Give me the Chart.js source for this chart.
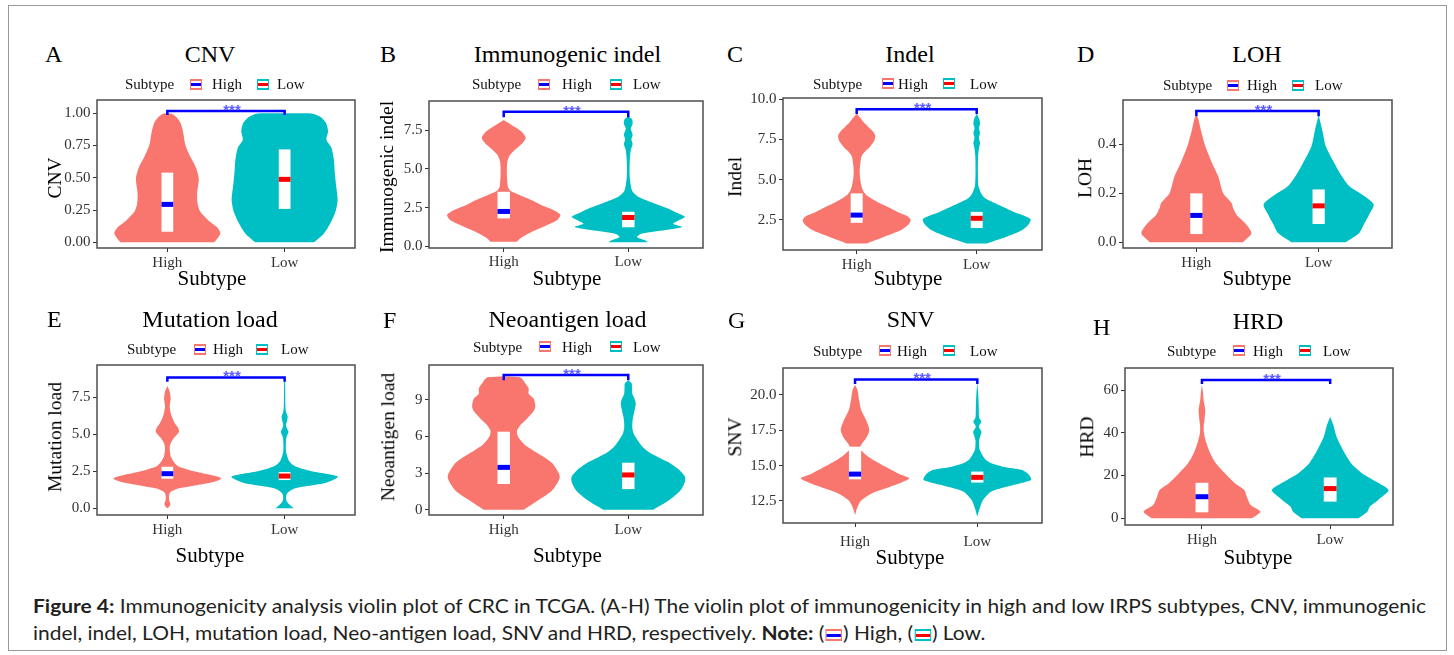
<!DOCTYPE html>
<html>
<head>
<meta charset="utf-8">
<title>Figure 4</title>
<script src="https://cdn.jsdelivr.net/npm/chart.js@4.4.1/dist/chart.umd.min.js"></script>
<style>
  html, body { margin: 0; padding: 0; background: #fff; }
  body { position: relative; width: 1454px; height: 655px; overflow: hidden; font-family: 'Liberation Serif', 'Times New Roman', serif; color: #111; }
  .frame { position: absolute; left: 8px; top: 5px; width: 1437px; height: 644px; border: 1px solid #999; }
  .t { position: absolute; white-space: nowrap; line-height: 1; }
  .key { position: absolute; width: 12px; height: 11px; }
  .key i, .ckey i { position: absolute; display: block; }
  canvas { position: absolute; }
  .cap { position: absolute; left: 33px; white-space: nowrap; font-family: Lato, sans-serif; font-size: 19px; line-height: 1; color: #231f20; transform-origin: 0 50%; }
  .ckey { display: inline-block; position: relative; width: 15px; height: 12px; vertical-align: -1px; margin: 0 1px; }
</style>
</head>
<body>
<div class="frame"></div>
<script>
const groups = ['High', 'Low'];

// violin outlines: [value, half width in category units]
const cnvHigh = [[0,0.40],[0.069,0.452],[0.12,0.42],[0.17,0.35],[0.238,0.28],[0.303,0.257],[0.38,0.254],[0.496,0.268],[0.587,0.24],[0.665,0.195],[0.756,0.153],[0.846,0.136],[0.924,0.113],[0.97,0.078],[0.996,0.035],[1.0,0]];
const cnvLow = [[0,0.25],[0.069,0.336],[0.147,0.39],[0.238,0.434],[0.328,0.452],[0.432,0.44],[0.535,0.428],[0.639,0.42],[0.73,0.40],[0.794,0.357],[0.86,0.37],[0.924,0.353],[0.97,0.31],[0.996,0.24],[1.0,0.2]];
const cnvBox = [[0.082,0.294,0.54],[0.259,0.488,0.72]];   // q1, median, q3
const cnvSig = [1.018, 0.987];
const cnvTicks = ['0.00','0.25','0.50','0.75','1.00'];

const imIndelHigh = [[0.3,0.107],[0.52,0.134],[0.95,0.23],[1.38,0.35],[1.7,0.43],[2.02,0.455],[2.3,0.41],[2.6,0.32],[2.88,0.25],[3.1,0.19],[3.3,0.13],[3.55,0.06],[3.8,0.035],[4.3,0.027],[5.0,0.025],[5.5,0.03],[5.9,0.05],[6.3,0.1],[6.65,0.15],[7.0,0.177],[7.35,0.15],[7.65,0.1],[7.9,0.05],[8.15,0]];
const imIndelLow = [[0.26,0.16],[0.4,0.13],[0.6,0.07],[0.8,0.1],[1.05,0.3],[1.25,0.43],[1.45,0.36],[1.65,0.40],[1.9,0.455],[2.2,0.38],[2.5,0.3],[2.8,0.2],[3.2,0.08],[3.6,0.03],[4.5,0.012],[5.5,0.012],[6.2,0.02],[6.6,0.035],[6.9,0.025],[7.2,0.035],[7.6,0.02],[7.9,0.035],[8.2,0.03],[8.4,0]];
const imIndelBox = [[1.8,2.25,3.52],[1.23,1.86,2.23]];
const imIndelSig = [8.69, 8.33];
const imIndelTicks = ['0.0','2.5','5.0','7.5'];

const indelHigh = [[1.04,0.085],[1.45,0.23],[1.87,0.37],[2.2,0.43],[2.5,0.45],[2.75,0.42],[3.0,0.34],[3.3,0.26],[3.55,0.19],[3.8,0.13],[4.05,0.08],[4.3,0.055],[4.6,0.04],[5.1,0.028],[5.6,0.025],[6.0,0.03],[6.45,0.04],[6.75,0.07],[7.0,0.105],[7.4,0.145],[7.75,0.155],[8.05,0.13],[8.3,0.095],[8.55,0.06],[8.8,0.035],[9.1,0]];
const indelLow = [[1.04,0.085],[1.45,0.25],[1.87,0.38],[2.2,0.43],[2.53,0.45],[2.75,0.4],[3.0,0.31],[3.3,0.22],[3.55,0.15],[3.8,0.08],[4.05,0.045],[4.6,0.015],[5.5,0.01],[6.5,0.012],[7.0,0.02],[7.3,0.028],[7.6,0.018],[7.9,0.028],[8.2,0.018],[8.5,0.028],[8.8,0.02],[9.1,0]];
const indelBox = [[2.32,2.8,4.15],[2.0,2.6,3.0]];
const indelSig = [9.38, 9.09];
const indelTicks = ['2.5','5.0','7.5','10.0'];

const lohHigh = [[0,0.38],[0.037,0.45],[0.078,0.40],[0.112,0.33],[0.14,0.30],[0.159,0.29],[0.2,0.22],[0.268,0.18],[0.322,0.13],[0.39,0.075],[0.458,0.037],[0.505,0.015],[0.52,0]];
const lohLow = [[0,0.22],[0.037,0.33],[0.078,0.375],[0.12,0.42],[0.155,0.45],[0.19,0.37],[0.23,0.25],[0.27,0.19],[0.322,0.13],[0.39,0.06],[0.458,0.03],[0.52,0]];
const lohBox = [[0.034,0.11,0.2],[0.075,0.149,0.216]];
const lohSig = [0.536, 0.515];
const lohTicks = ['0.0','0.2','0.4'];

const mutHigh = [[0.0,0.0],[0.15,0.02],[0.34,0.025],[0.55,0.015],[0.9,0.015],[1.12,0.03],[1.35,0.1],[1.5,0.2],[1.68,0.33],[1.85,0.42],[2.02,0.46],[2.2,0.4],[2.36,0.31],[2.55,0.2],[2.7,0.14],[2.85,0.09],[3.04,0.064],[3.49,0.03],[4.05,0.02],[4.4,0.028],[4.75,0.055],[5.18,0.1],[5.45,0.09],[5.74,0.064],[6.3,0.033],[6.87,0.02],[7.2,0.025],[7.43,0.028],[7.88,0.02],[8.26,0]];
const mutLow = [[0,0.08],[0.23,0.045],[0.45,0.02],[0.7,0.012],[1.0,0.02],[1.28,0.065],[1.45,0.15],[1.68,0.33],[1.9,0.41],[2.13,0.455],[2.3,0.38],[2.47,0.25],[2.65,0.16],[2.81,0.1],[3.0,0.06],[3.26,0.033],[3.83,0.012],[4.62,0.012],[4.9,0.02],[5.18,0.033],[5.4,0.02],[5.63,0.012],[5.9,0.02],[6.2,0.026],[6.5,0.012],[6.87,0.007],[8.6,0.004],[8.65,0]];
const mutBox = [[2.0,2.34,2.81],[1.91,2.18,2.45]];
const mutSig = [8.84, 8.55];
const mutTicks = ['0.0','2.5','5.0','7.5'];

const neoHigh = [[0,0.16],[0.8,0.28],[1.6,0.39],[2.7,0.45],[3.8,0.39],[4.4,0.31],[4.9,0.23],[5.3,0.17],[5.7,0.134],[6.1,0.11],[6.5,0.107],[7.0,0.14],[7.5,0.19],[8.0,0.235],[8.44,0.254],[9.1,0.24],[9.5,0.2],[9.95,0.2],[10.4,0.17],[10.84,0.13]];
const neoLow = [[0,0.2],[0.8,0.33],[1.6,0.42],[2.3,0.455],[2.7,0.455],[3.25,0.41],[3.9,0.32],[4.3,0.24],[4.7,0.167],[5.2,0.11],[5.7,0.074],[6.2,0.045],[6.66,0.033],[7.1,0.033],[7.5,0.037],[8.1,0.05],[8.7,0.06],[9.1,0.05],[9.5,0.033],[10.0,0.03],[10.35,0.027],[10.6,0]];
const neoBox = [[2.11,3.47,6.39],[1.69,2.85,3.85]];
const neoSig = [11.03, 10.6];
const neoTicks = ['0','3','6','9'];

const snvHigh = [[11.5,0],[12.08,0.02],[12.56,0.055],[13.03,0.137],[13.5,0.287],[13.8,0.38],[14.1,0.443],[14.4,0.36],[14.93,0.246],[15.4,0.15],[15.75,0.09],[16.0,0.06],[16.2,0.04],[16.46,0.05],[16.93,0.09],[17.52,0.117],[18.23,0.09],[18.94,0.05],[19.64,0.033],[20.35,0.02],[20.7,0]];
const snvLow = [[11.4,0],[11.99,0.02],[12.58,0.048],[13.17,0.116],[13.64,0.3],[13.99,0.44],[14.25,0.43],[14.46,0.41],[14.7,0.36],[14.9,0.22],[15.17,0.116],[15.4,0.07],[15.64,0.048],[16.1,0.02],[16.5,0.015],[16.8,0.015],[17.1,0.025],[17.4,0.034],[17.75,0.012],[18.1,0.033],[18.4,0.015],[19.17,0.012],[20.0,0.008],[20.9,0]];
const snvBox = [[14.03,14.4,16.34],[13.8,14.17,14.58]];
const snvSig = [21.1, 20.78];
const snvTicks = ['12.5','15.0','17.5','20.0'];

const hrdHigh = [[0,0.39],[3.1,0.455],[6.2,0.38],[10.1,0.35],[13.2,0.33],[16.3,0.26],[21,0.18],[25.6,0.11],[30.3,0.065],[35,0.036],[39.7,0.016],[43,0.014],[45.9,0.02],[50.6,0.026],[53,0.02],[55.3,0.013],[59,0.008],[62.3,0]];
const hrdLow = [[0,0.22],[3.1,0.29],[5.5,0.31],[8.6,0.375],[13.2,0.455],[17.1,0.36],[21,0.25],[25.6,0.165],[31.9,0.1],[38.1,0.05],[43.6,0.025],[47.5,0]];
const hrdBox = [[2.8,10.1,16.6],[7.8,13.9,19.1]];
const hrdSig = [64.7, 62.8];
const hrdTicks = ['0','20','40','60'];

const FILLS = ['#F8766D', '#00BFC4'];
const MEDIANS = ['#0000FF', '#FF0000'];
const SERIF = "'Liberation Serif', 'Times New Roman', serif";

const panels = [
  { letter: 'A', title: 'CNV', yTitle: 'CNV', rect: [97, 100, 355, 248], xr: [0.4, 2.6], yr: [-0.044, 1.103],
    high: cnvHigh, low: cnvLow, stats: cnvBox, sig: cnvSig, ticks: cnvTicks,
    letterAt: [45, 53.5], titleAt: [210, 53.5], legY: 84, legX: [125, 190, 212, 257, 277],
    yTitleAt: [55, 178], xTitleAt: [212, 278], tickPad: 2 },
  { letter: 'B', title: 'Immunogenic indel', yTitle: 'Immunogenic indel', rect: [429, 101, 703, 248], xr: [0.4, 2.6], yr: [-0.11, 9.38],
    high: imIndelHigh, low: imIndelLow, stats: imIndelBox, sig: imIndelSig, ticks: imIndelTicks,
    letterAt: [380, 53.5], titleAt: [567.5, 53.5], legY: 84, legX: [472, 538, 562, 610, 633],
    yTitleAt: [386.7, 176.7], xTitleAt: [567, 278], tickPad: 1 },
  { letter: 'C', title: 'Indel', yTitle: 'Indel', rect: [783, 98, 1042, 250], xr: [0.386, 2.544], yr: [0.63, 10.08],
    high: indelHigh, low: indelLow, stats: indelBox, sig: indelSig, ticks: indelTicks,
    letterAt: [727, 53.5], titleAt: [910, 53.5], legY: 83.5, legX: [813, 882, 898, 943, 970],
    yTitleAt: [735, 176.7], xTitleAt: [908, 278], tickPad: 2 },
  { letter: 'D', title: 'LOH', yTitle: 'LOH', rect: [1123, 100, 1392, 248], xr: [0.4, 2.6], yr: [-0.023, 0.581],
    high: lohHigh, low: lohLow, stats: lohBox, sig: lohSig, ticks: lohTicks,
    letterAt: [1077, 53.5], titleAt: [1257, 53.5], legY: 85, legX: [1163, 1227, 1247, 1292, 1315],
    yTitleAt: [1085, 178.3], xTitleAt: [1257, 278], tickPad: 2 },
  { letter: 'E', title: 'Mutation load', yTitle: 'Mutation load', rect: [97, 365, 355, 515], xr: [0.4, 2.6], yr: [-0.45, 9.68],
    high: mutHigh, low: mutLow, stats: mutBox, sig: mutSig, ticks: mutTicks,
    letterAt: [47, 319], titleAt: [210, 318.5], legY: 349, legX: [127, 194, 213, 256, 281],
    yTitleAt: [55, 436.7], xTitleAt: [210, 555], tickPad: 2 },
  { letter: 'F', title: 'Neoantigen load', yTitle: 'Neoantigen load', rect: [429, 365, 703, 515], xr: [0.4, 2.6], yr: [-0.43, 11.85],
    high: neoHigh, low: neoLow, stats: neoBox, sig: neoSig, ticks: neoTicks,
    letterAt: [383, 320], titleAt: [567.5, 319], legY: 346.7, legX: [473, 539, 562, 610, 633],
    yTitleAt: [388, 436.7], xTitleAt: [567.3, 555], tickPad: 2 },
  { letter: 'G', title: 'SNV', yTitle: 'SNV', rect: [783, 368, 1042, 523], xr: [0.411, 2.529], yr: [10.94, 21.91],
    high: snvHigh, low: snvLow, stats: snvBox, sig: snvSig, ticks: snvTicks,
    letterAt: [728, 320], titleAt: [910.7, 319], legY: 350.7, legX: [813, 879, 897, 943, 970],
    yTitleAt: [735, 436.7], xTitleAt: [910, 556.7], tickPad: 5.7 },
  { letter: 'H', title: 'HRD', yTitle: 'HRD', rect: [1125, 368, 1393, 525], xr: [0.4, 2.49], yr: [-3.13, 70.3],
    high: hrdHigh, low: hrdLow, stats: hrdBox, sig: hrdSig, ticks: hrdTicks,
    letterAt: [1093, 326.7], titleAt: [1258, 320.5], legY: 350.7, legX: [1167, 1233, 1253, 1299, 1323],
    yTitleAt: [1087, 436.7], xTitleAt: [1258, 556.7], tickPad: 2 }
];

function text(s, x, y, size, mode, extra) {
  const d = document.createElement('div');
  d.className = 't';
  d.textContent = s;
  d.style.left = x + 'px';
  d.style.top = y + 'px';
  d.style.fontSize = size + 'px';
  if (mode === 'c') d.style.transform = 'translate(-50%,-50%)';
  else if (mode === 'r') d.style.transform = 'translate(-50%,-50%) rotate(-90deg)';
  else d.style.transform = 'translate(0,-50%)';
  if (extra) Object.assign(d.style, extra);
  document.body.appendChild(d);
  return d;
}

function keyInner(el, fill, line, w, h) {
  el.style.background = fill;
  const white = document.createElement('i');
  Object.assign(white.style, { left: '1px', top: '2px', width: (w - 2) + 'px', height: (h - 4) + 'px', background: '#fff' });
  const bar = document.createElement('i');
  Object.assign(bar.style, { left: '1px', top: (h / 2 - 1.5) + 'px', width: (w - 2) + 'px', height: '3px', background: line });
  el.appendChild(white);
  el.appendChild(bar);
}

function legendKey(x, y, i) {
  const k = document.createElement('div');
  k.className = 'key';
  k.style.left = x + 'px';
  k.style.top = (y - 5.5) + 'px';
  keyInner(k, FILLS[i], MEDIANS[i], 12, 11);
  document.body.appendChild(k);
}

function violin(pairs, c) {
  const right = pairs.map(([y, w]) => ({ x: c + w, y }));
  const left = pairs.slice().reverse().map(([y, w]) => ({ x: c - w, y }));
  return right.concat(left);
}

const BOXW = 0.05;
const PADL = 60, PADT = 12, PADR = 6, PADB = 34;

panels.forEach(p => {
  const [l, t, r, b] = p.rect;
  const cv = document.createElement('canvas');
  cv.width = r - l + PADL + PADR;
  cv.height = b - t + PADT + PADB;
  cv.style.left = (l - PADL) + 'px';
  cv.style.top = (t - PADT) + 'px';
  document.body.appendChild(cv);

  const datasets = [];
  [p.high, p.low].forEach((pairs, i) => {
    datasets.push({ data: violin(pairs, i + 1), backgroundColor: FILLS[i], borderWidth: 0,
      fill: 'shape', tension: 0.25, pointRadius: 0, order: 5 });
  });
  p.stats.forEach(([q1, med, q3], i) => {
    const c = i + 1;
    datasets.push({ data: [{ x: c - BOXW, y: q1 }, { x: c + BOXW, y: q1 }, { x: c + BOXW, y: q3 }, { x: c - BOXW, y: q3 }],
      backgroundColor: '#ffffff', borderWidth: 0, fill: 'shape', tension: 0, pointRadius: 0, order: 4 });
    datasets.push({ data: [{ x: c - BOXW, y: med }, { x: c + BOXW, y: med }],
      borderColor: MEDIANS[i], borderWidth: 5, borderCapStyle: 'butt', fill: false, pointRadius: 0, order: 3 });
  });
  const [bar, tip] = p.sig;
  datasets.push({ data: [{ x: 1, y: tip }, { x: 1, y: bar }, { x: 2, y: bar }, { x: 2, y: tip }],
    borderColor: '#0000FF', borderWidth: 2.5, fill: false, pointRadius: 0, tension: 0, order: 2 });

  const tickVals = p.ticks.map(Number);

  const framePlugin = {
    id: 'frame',
    afterDatasetsDraw(chart) {
      const { ctx, chartArea: a, scales: { x, y } } = chart;
      ctx.save();
      ctx.strokeStyle = '#4d4d4d';
      ctx.lineWidth = 1.5;
      ctx.strokeRect(a.left, a.top, a.right - a.left, a.bottom - a.top);
      ctx.fillStyle = '#5c5cff';
      ctx.font = 'bold 15px "Liberation Sans", sans-serif';
      ctx.textAlign = 'center';
      ctx.textBaseline = 'alphabetic';
      ctx.fillText('***', x.getPixelForValue(1.5) + 6, y.getPixelForValue(bar) + 4);
      ctx.restore();
    }
  };

  new Chart(cv, {
    type: 'line',
    data: { datasets },
    options: {
      responsive: false,
      animation: false,
      events: [],
      layout: { padding: { left: 0, top: PADT, right: PADR, bottom: 0 } },
      plugins: { legend: { display: false }, tooltip: { enabled: false } },
      scales: {
        x: {
          type: 'linear', min: p.xr[0], max: p.xr[1],
          afterFit: s => { s.height = PADB; },
          afterBuildTicks: s => { s.ticks = [{ value: 1 }, { value: 2 }]; },
          ticks: { callback: (v, i) => groups[i], color: '#333', font: { family: SERIF, size: 15 }, padding: p.tickPad, maxRotation: 0 },
          grid: { drawOnChartArea: false, drawTicks: true, tickLength: 4, color: '#333' },
          border: { display: false }
        },
        y: {
          type: 'linear', min: p.yr[0], max: p.yr[1],
          afterFit: s => { s.width = PADL; },
          afterBuildTicks: s => { s.ticks = tickVals.map(v => ({ value: v })); },
          ticks: { callback: (v, i) => p.ticks[i], color: '#333', font: { family: SERIF, size: 15 }, padding: 2.5 },
          grid: { drawOnChartArea: false, drawTicks: true, tickLength: 4, color: '#333' },
          border: { display: false }
        }
      }
    },
    plugins: [framePlugin]
  });

  text(p.letter, p.letterAt[0], p.letterAt[1], 24, 'l', { color: '#000' });
  text(p.title, p.titleAt[0], p.titleAt[1], 24, 'c', { color: '#000' });
  text(p.yTitle, p.yTitleAt[0], p.yTitleAt[1], 19.5, 'r', { color: '#000' });
  text('Subtype', p.xTitleAt[0], p.xTitleAt[1], 21, 'c', { color: '#000' });
  const lx = p.legX;
  text('Subtype', lx[0], p.legY, 15, 'l', { color: '#111' });
  legendKey(lx[1], p.legY, 0);
  text(groups[0], lx[2], p.legY, 15, 'l', { color: '#111' });
  legendKey(lx[3], p.legY, 1);
  text(groups[1], lx[4], p.legY, 15, 'l', { color: '#111' });
});

// caption
const cap1 = document.createElement('div');
cap1.className = 'cap';
cap1.style.top = '596px';
cap1.innerHTML = '<b>Figure 4:</b> Immunogenicity analysis violin plot of CRC in TCGA. (A-H) The violin plot of immunogenicity in high and low IRPS subtypes, CNV, immunogenic';
document.body.appendChild(cap1);
const cap2 = document.createElement('div');
cap2.className = 'cap';
cap2.style.top = '623px';
cap2.innerHTML = 'indel, indel, LOH, mutation load, Neo-antigen load, SNV and HRD, respectively. <b>Note:</b> (<span class="ckey" id="ck0"></span>) High, (<span class="ckey" id="ck1"></span>) Low.';
document.body.appendChild(cap2);
keyInner(document.getElementById('ck0'), FILLS[0], MEDIANS[0], 15, 12);
keyInner(document.getElementById('ck1'), FILLS[1], MEDIANS[1], 15, 12);
const sx = 1393 / cap1.getBoundingClientRect().width;
cap1.style.transform = 'scaleX(' + sx + ')';
cap2.style.transform = 'scaleX(' + sx + ')';
</script>
</body>
</html>
